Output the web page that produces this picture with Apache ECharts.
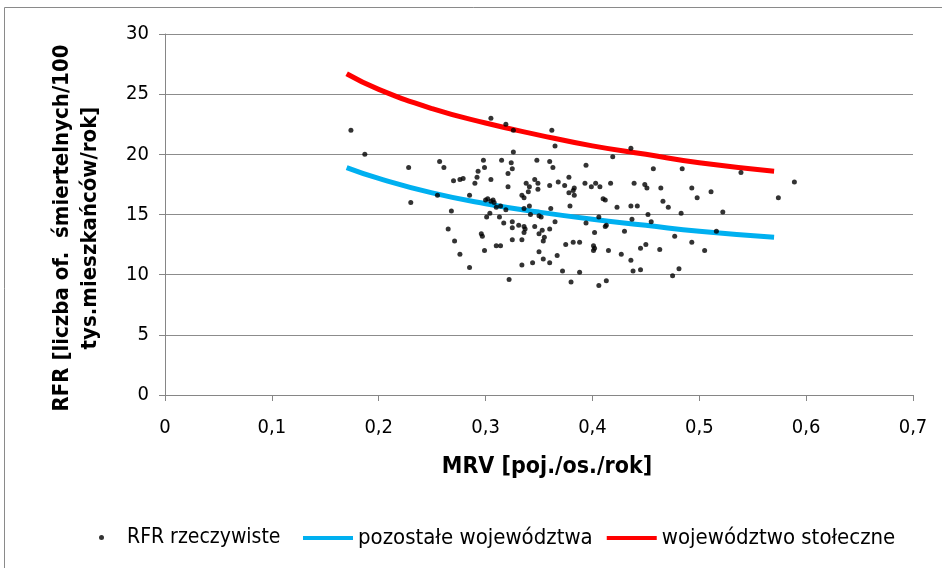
<!DOCTYPE html>
<html>
<head>
<meta charset="utf-8">
<script src="https://cdn.jsdelivr.net/npm/echarts@6/dist/echarts.min.js"></script>
<style>
html,body{margin:0;padding:0;background:#fff;}
#chart{width:942px;height:568px;}
</style>
</head>
<body>
<div id="chart"></div>
<script>
// Scatter: RFR rzeczywiste (MRV, RFR)
const scatterX = [0.174,0.187,0.228,0.230,0.255,0.257,0.261,0.268,0.265,0.270,0.271,0.276,0.276,0.279,0.285,0.285,0.290,0.292,0.293,0.296,0.297,0.298,0.299,0.299,0.300,0.301,0.302,0.304,0.305,0.305,0.305,0.307,0.308,0.310,0.310,0.313,0.314,0.314,0.315,0.317,0.319,0.319,0.321,0.321,0.322,0.324,0.325,0.325,0.325,0.325,0.326,0.326,0.331,0.334,0.334,0.334,0.336,0.336,0.336,0.337,0.336,0.338,0.340,0.341,0.341,0.342,0.344,0.346,0.346,0.348,0.349,0.349,0.350,0.350,0.350,0.352,0.353,0.354,0.355,0.354,0.360,0.360,0.361,0.360,0.360,0.362,0.363,0.365,0.365,0.367,0.368,0.372,0.374,0.375,0.378,0.378,0.379,0.380,0.382,0.382,0.383,0.383,0.388,0.388,0.393,0.394,0.394,0.399,0.401,0.402,0.402,0.401,0.403,0.406,0.406,0.407,0.410,0.412,0.412,0.413,0.413,0.415,0.417,0.419,0.423,0.427,0.430,0.436,0.436,0.437,0.436,0.438,0.439,0.442,0.445,0.445,0.449,0.450,0.451,0.452,0.455,0.457,0.463,0.464,0.466,0.471,0.475,0.477,0.481,0.483,0.484,0.493,0.493,0.498,0.505,0.511,0.516,0.522,0.539,0.574,0.589];
const scatterY = [22.0,20.0,18.9,16.0,16.6,19.4,18.9,15.3,13.8,17.8,12.8,17.9,11.7,18.0,16.6,10.6,17.6,18.1,18.6,13.4,13.2,19.5,18.9,12.0,16.2,14.8,16.3,15.1,23.0,17.9,16.1,16.2,16.0,15.6,12.4,14.8,12.4,15.7,19.5,14.3,22.5,15.4,18.4,17.3,9.6,19.3,18.8,14.4,13.9,12.9,22.0,20.2,14.1,16.6,12.9,10.8,16.4,15.5,14.0,13.8,13.5,17.6,16.9,17.3,15.7,15.0,11.0,17.9,14.0,19.5,17.6,17.1,14.9,13.4,11.9,14.8,13.7,11.3,13.1,12.8,19.4,17.4,15.5,13.8,11.0,22.0,18.9,20.7,14.4,11.6,17.7,10.3,17.4,12.5,18.1,16.8,15.7,9.4,17.0,12.7,17.2,16.6,12.7,10.2,17.6,19.1,14.3,17.3,12.4,13.5,12.2,12.0,17.6,14.8,9.1,17.3,16.3,16.2,14.0,14.1,9.5,12.0,17.6,19.8,15.6,11.7,13.6,20.5,15.7,14.6,11.2,10.3,17.6,15.7,12.2,10.4,17.5,12.5,17.2,15.0,14.4,18.8,12.1,17.2,16.1,15.6,9.9,13.2,10.5,15.1,18.8,17.2,12.7,16.4,12.0,16.9,13.6,15.2,18.5,16.4,17.7];

// Fitted curves
const curveX = [0.17,0.20,0.25,0.30,0.35,0.40,0.45,0.50,0.57];
const blueY  = [18.9,18.0,16.8,15.9,15.2,14.6,14.1,13.6,13.1];
const redY   = [26.7,25.4,23.8,22.6,21.6,20.7,20.0,19.3,18.6];

const xTicks = [0,0.1,0.2,0.3,0.4,0.5,0.6,0.7];
const yTicks = [0,5,10,15,20,25,30];

const seriesNames = ['RFR rzeczywiste','pozostałe województwa','województwo stołeczne'];
const xTitle = 'MRV [poj./os./rok]';
const yTitleLines = ['RFR [liczba of.  śmiertelnych/100','tys.mieszkańców/rok]'];

const narrow = "'Liberation Sans Narrow','DejaVu Sans Condensed',sans-serif";

const chart = echarts.init(document.getElementById('chart'), null, {renderer:'canvas'});
chart.setOption({
  animation:false,
  backgroundColor:'#ffffff',
  graphic:[
    {type:'rect',shape:{x:4.5,y:7.5,width:1000,height:1000},style:{fill:'none',stroke:'#8a8a8a',lineWidth:1},silent:true},
    {type:'text',x:547,y:467,style:{text:xTitle,fontFamily:narrow,fontWeight:'bold',fontSize:23,fill:'#000',align:'center',verticalAlign:'middle'}},
    {type:'text',x:62,y:228,rotation:Math.PI/2,style:{text:yTitleLines[0],fontFamily:narrow,fontWeight:'bold',fontSize:22,fill:'#000',align:'center',verticalAlign:'middle'}},
    {type:'text',x:90,y:228,rotation:Math.PI/2,style:{text:yTitleLines[1],fontFamily:narrow,fontWeight:'bold',fontSize:22,fill:'#000',align:'center',verticalAlign:'middle'}}
  ],
  grid:{left:165,right:29,top:34,bottom:173},
  xAxis:{
    type:'value',min:0,max:0.7,interval:0.1,
    axisLine:{show:true,lineStyle:{color:'#868686',width:1}},
    axisTick:{show:true,length:6,lineStyle:{color:'#868686'}},
    splitLine:{show:false},
    axisLabel:{margin:23,fontFamily:narrow,fontSize:20,color:'#000',
      formatter:v=>{const t=xTicks.find(k=>Math.abs(k-v)<1e-9);return (t===undefined?v:t).toString().replace('.',',');}}
  },
  yAxis:{
    type:'value',min:0,max:30,interval:5,
    axisLine:{show:true,lineStyle:{color:'#868686',width:1}},
    axisTick:{show:true,length:6,lineStyle:{color:'#868686'}},
    splitLine:{show:true,lineStyle:{color:'#8c8c8c',width:1}},
    axisLabel:{margin:16,fontFamily:narrow,fontSize:20,color:'#000',
      formatter:v=>{const t=yTicks.find(k=>k===v);return String(t===undefined?v:t);}}
  },
  legend:[
    {data:[{name:seriesNames[0],icon:'circle'}],left:94,top:522,itemWidth:5,itemHeight:5,
     textStyle:{fontFamily:narrow,fontSize:21,color:'#000',padding:[0,0,0,18]}},
    {data:[{name:seriesNames[1],icon:'rect'},{name:seriesNames[2],icon:'rect'}],left:298,top:522,itemWidth:50,itemHeight:4,itemGap:14,
     textStyle:{fontFamily:narrow,fontSize:22,color:'#000'}}
  ],
  series:[
    {name:seriesNames[0],type:'scatter',symbol:'circle',symbolSize:5,itemStyle:{color:'#000'},
     data:scatterX.map((x,i)=>[x,scatterY[i]]),z:3},
    {name:seriesNames[1],type:'line',smooth:true,showSymbol:false,symbol:'none',
     lineStyle:{color:'#00b0f0',width:5},itemStyle:{color:'#00b0f0'},
     data:curveX.map((x,i)=>[x,blueY[i]]),z:2},
    {name:seriesNames[2],type:'line',smooth:true,showSymbol:false,symbol:'none',
     lineStyle:{color:'#ff0000',width:5},itemStyle:{color:'#ff0000'},
     data:curveX.map((x,i)=>[x,redY[i]]),z:2}
  ]
});
</script>
</body>
</html>
